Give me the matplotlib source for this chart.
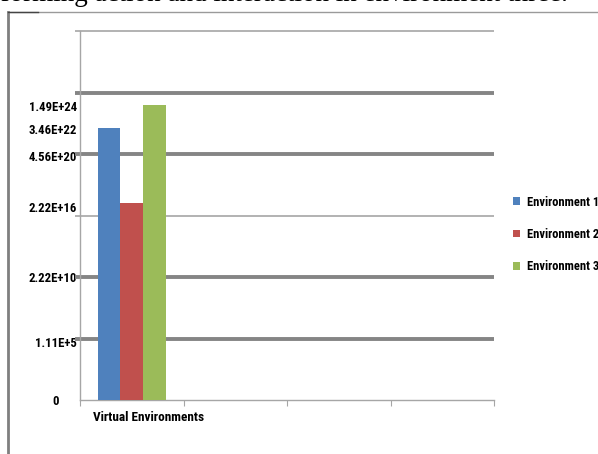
import matplotlib
matplotlib.use("Agg")
import matplotlib.pyplot as plt
from matplotlib.lines import Line2D
from matplotlib.patches import Patch
import matplotlib.transforms as mtransforms
from matplotlib import font_manager

# ---------------------------------------------------------------------------
# Data (bar heights on the chart's own 0..6 display scale)
# ---------------------------------------------------------------------------
series_names = ["Environment 1", "Environment 2", "Environment 3"]
series_values = [4.42, 3.20, 4.80]
series_colors = ["#4F81BD", "#C0504D", "#9BBB59"]
category = "Virtual Environments"
n_slots = 4

tick_pos = [0, 0.95, 2.0, 3.14, 3.97, 4.41, 4.78]
tick_labels = ["0", "1.11E+5", "2.22E+10", "2.22E+16", "4.56E+20",
               "3.46E+22", "1.49E+24"]
thick_grid = [1, 2, 4, 5]
thin_grid = [3, 6]

# pick a narrow sans face if one is installed (the original uses Calibri bold)
installed = {(f.name, f.stretch) for f in font_manager.fontManager.ttflist}
names = {n for n, _ in installed}
label_font = ["DejaVu Sans"]
label_stretch = "normal"
narrow = False
for cand in ["Liberation Sans Narrow", "Roboto Condensed", "Open Sans Condensed",
             "DejaVu Sans Condensed", "Noto Sans Condensed"]:
    if cand in names:
        label_font = [cand, "DejaVu Sans"]
        narrow = True
        break
if not narrow:
    for n, st in installed:
        if n in ("DejaVu Sans", "Noto Sans", "Open Sans") and "condensed" in str(st):
            label_font = [n]
            label_stretch = "condensed"
            narrow = True
            break
tick_size = 9.2 if narrow else 8
leg_size = 9 if narrow else 7.5

fig = plt.figure(figsize=(5.98, 4.54), dpi=100)
W, H = 598, 454

# page frame and clipped caption line above
fig.add_artist(Line2D([8 / W, 8 / W], [0, 1 - 12 / H], color="#7f7f7f", lw=2))
fig.add_artist(Line2D([8 / W, 1], [1 - 12 / H, 1 - 12 / H], color="#9a9a9a", lw=1))
fig.add_artist(Line2D([8 / W, 38 / W], [1 - 12 / H, 1 - 12 / H], color="#444444", lw=1))
fig.text(568 / W, 1 - 1 / H, "performing action and interaction in environment three.",
         ha="right", va="baseline", fontsize=19.5, family="Liberation Serif")

ax = fig.add_axes([80 / W, 1 - 400 / H, 414 / W, 369 / H])

offsets = [-0.22, 0.0, 0.22]
for name, val, col, off in zip(series_names, series_values, series_colors, offsets):
    ax.bar(0 + off, val, width=0.22, color=col, zorder=3, label=name)

ax.set_xlim(-0.5, n_slots - 0.5)
ax.set_ylim(0, 6)

# gridlines (slightly protruding to the left like tick marks)
trans = mtransforms.blended_transform_factory(ax.transAxes, ax.transData)
for g in thick_grid:
    ax.plot([-0.012, 1.0], [g, g], transform=trans, color="#858585", lw=2.8,
            clip_on=False, zorder=2, solid_capstyle="butt")
for g in thin_grid:
    ax.plot([-0.012, 1.0], [g, g], transform=trans, color="#a6a6a6", lw=1.2,
            clip_on=False, zorder=2, solid_capstyle="butt")

for s in ["top", "right"]:
    ax.spines[s].set_visible(False)
for s in ["left", "bottom"]:
    ax.spines[s].set_color("#a6a6a6")
    ax.spines[s].set_linewidth(1)

ax.set_yticks(tick_pos)
ax.set_yticklabels(tick_labels, family=label_font, stretch=label_stretch,
                   fontweight="bold", fontsize=tick_size)
ax.tick_params(axis="y", length=0, pad=2)
# the "0" label sits further left in the original
zero_lbl = ax.get_yticklabels()[0]
zero_lbl.set_transform(zero_lbl.get_transform() +
                       mtransforms.ScaledTranslation(-18 / 100, 0, fig.dpi_scale_trans))

ax.set_xticks([i - 0.5 for i in range(n_slots + 1)])
ax.set_xticklabels([])
ax.tick_params(axis="x", direction="out", length=4, color="#a6a6a6")

ax.text(0.16, -0.047, category, transform=mtransforms.blended_transform_factory(
    ax.transData, ax.transAxes), ha="center", va="center",
    family=label_font, stretch=label_stretch, fontweight="bold", fontsize=tick_size + 0.3)

handles = [Patch(facecolor=c, edgecolor="none") for c in series_colors]
fig.legend(handles, series_names, loc="upper left",
           bbox_to_anchor=(510 / W, 1 - 193 / H), frameon=False,
           handlelength=0.6, handleheight=0.6, handletextpad=0.55,
           labelspacing=1.55, borderaxespad=0, borderpad=0.2,
           prop={"family": label_font, "stretch": label_stretch,
                 "weight": "bold", "size": leg_size})

fig.savefig("out.png", dpi=100)
